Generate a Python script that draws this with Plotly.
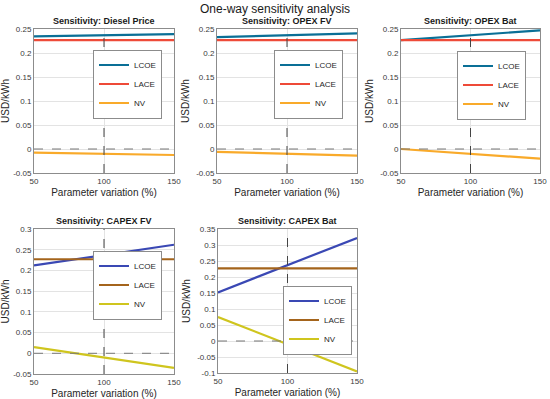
import plotly.graph_objects as go

x_pct = [50, 100, 150]

titles = ["Sensitivity: Diesel Price", "Sensitivity: OPEX FV", "Sensitivity: OPEX Bat",
          "Sensitivity: CAPEX FV", "Sensitivity: CAPEX Bat"]

lcoe = [
    [0.2345, 0.237, 0.2395],
    [0.233, 0.237, 0.241],
    [0.227, 0.237, 0.247],
    [0.212, 0.237, 0.262],
    [0.152, 0.237, 0.322],
]
lace = [
    [0.227, 0.227, 0.227],
    [0.227, 0.227, 0.227],
    [0.227, 0.227, 0.227],
    [0.227, 0.227, 0.227],
    [0.227, 0.227, 0.227],
]
nv = [
    [-0.0075, -0.010, -0.0125],
    [-0.006, -0.010, -0.014],
    [0.000, -0.010, -0.020],
    [0.015, -0.010, -0.035],
    [0.075, -0.010, -0.095],
]

y_ranges = [[-0.05, 0.25], [-0.05, 0.25], [-0.05, 0.25], [-0.05, 0.3], [-0.1, 0.35]]
y_tickvals = [
    [-0.05, 0, 0.05, 0.1, 0.15, 0.2, 0.25],
    [-0.05, 0, 0.05, 0.1, 0.15, 0.2, 0.25],
    [-0.05, 0, 0.05, 0.1, 0.15, 0.2, 0.25],
    [-0.05, 0, 0.05, 0.1, 0.15, 0.2, 0.25, 0.3],
    [-0.1, -0.05, 0, 0.05, 0.1, 0.15, 0.2, 0.25, 0.3, 0.35],
]
y_ticktext = [
    ["-0.05", "0", "0.05", "0.1", "0.15", "0.2", "0.25"],
    ["-0.05", "0", "0.05", "0.1", "0.15", "0.2", "0.25"],
    ["-0.05", "0", "0.05", "0.1", "0.15", "0.2", "0.25"],
    ["-0.05", "0", "0.05", "0.1", "0.15", "0.2", "0.25", "0.3"],
    ["-0.1", "-0.05", "0", "0.05", "0.1", "0.15", "0.2", "0.25", "0.3", "0.35"],
]
x_tickvals = [50, 100, 150]
series_names = ["LCOE", "LACE", "NV"]

top_colors = ["#0a6f96", "#ee4a38", "#f9aa2a"]
bot_colors = ["#3a48b4", "#a4641c", "#cfc51e"]

W, H = 550, 399
# pixel boxes: (left, right, top, bottom)
boxes = [(34, 174, 29, 173), (217, 357, 29, 173), (401, 540, 29, 173),
         (34, 174, 229, 374), (218, 357, 229, 373)]
# legend anchor: right edge x, vertical centre y (pixels)
legend_pos = [(162, 84), (343, 84), (526, 85), (162, 285), (352, 320)]

fig = go.Figure()
layout = {}
FONT = "Liberation Sans, Arial, sans-serif"

for i in range(5):
    l, r, t, b = boxes[i]
    xa = "xaxis" if i == 0 else f"xaxis{i+1}"
    ya = "yaxis" if i == 0 else f"yaxis{i+1}"
    xr = "x" if i == 0 else f"x{i+1}"
    yr = "y" if i == 0 else f"y{i+1}"
    lg = "legend" if i == 0 else f"legend{i+1}"
    colors = top_colors if i < 3 else bot_colors
    for name, vals, c in zip(series_names, [lcoe[i], lace[i], nv[i]], colors):
        fig.add_trace(go.Scatter(x=x_pct, y=vals, mode="lines", name=name,
                                 line=dict(color=c, width=2.2),
                                 xaxis=xr, yaxis=yr, legend=lg))
    axis_common = dict(showline=True, linecolor="#8c8c8c", linewidth=1, mirror=True,
                       showgrid=True, gridcolor="#e3e3e3", gridwidth=1,
                       zeroline=False, ticks="", tickfont=dict(size=8, color="#3a3a3a"),
                       automargin=False)
    layout[xa] = dict(axis_common, domain=[l / W, r / W], anchor=yr, range=[50, 150],
                      tickvals=x_tickvals, ticktext=[str(v) for v in x_tickvals],
                      title=dict(text="Parameter variation (%)", font=dict(size=10, color="#262626"),
                                 standoff=4))
    layout[ya] = dict(axis_common, domain=[1 - b / H, 1 - t / H], anchor=xr, range=y_ranges[i],
                      tickvals=y_tickvals[i], ticktext=y_ticktext[i],
                      title=dict(text="USD/kWh", font=dict(size=10, color="#262626"), standoff=4))
    lx, ly = legend_pos[i]
    layout[lg] = dict(x=lx / W, y=1 - ly / H, xanchor="right", yanchor="middle",
                      bgcolor="white", bordercolor="#8c8c8c", borderwidth=1,
                      font=dict(size=8, color="#262626"), tracegroupgap=0,
                      itemwidth=30)
    # reference lines
    fig.add_shape(type="line", xref=xr, yref=f"{yr} domain", x0=100, x1=100, y0=0, y1=1,
                  line=dict(color="#444444", width=1, dash="dash"))
    fig.add_shape(type="line", xref=f"{xr} domain", yref=yr, x0=0, x1=1, y0=0, y1=0,
                  line=dict(color="#777777", width=1, dash="dash"))
    fig.add_annotation(text=f"<b>{titles[i]}</b>", xref="paper", yref="paper",
                       x=(l + r) / 2 / W, y=1 - (t - 1) / H, xanchor="center", yanchor="bottom",
                       showarrow=False, font=dict(size=9, color="#1a1a1a"))

fig.add_annotation(text="One-way sensitivity analysis", xref="paper", yref="paper",
                   x=0.5, y=1, xanchor="center", yanchor="top", showarrow=False,
                   font=dict(size=12, color="#1a1a1a"))

fig.update_layout(**layout)
fig.update_layout(width=W, height=H, margin=dict(l=0, r=0, t=0, b=0),
                  paper_bgcolor="white", plot_bgcolor="white",
                  font=dict(family=FONT), showlegend=True)
fig.write_html("out.html", config={"displayModeBar": False},
               post_script="document.body.style.margin='0';document.body.style.overflow='hidden';")
